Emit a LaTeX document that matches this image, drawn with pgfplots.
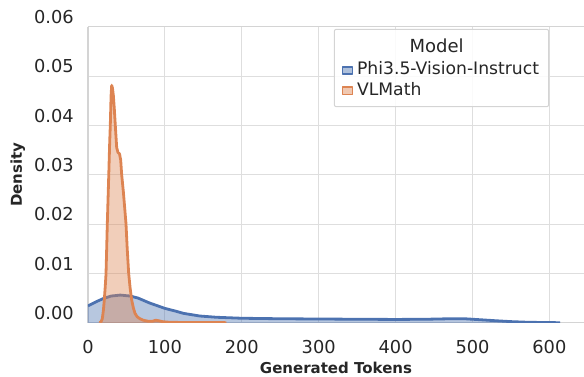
\documentclass[border=0pt]{standalone}
\usepackage{pgfplots}
\pgfplotsset{compat=1.18}
\usepackage{fontspec}
\setmainfont{DejaVu Sans}
\definecolor{phiblue}{HTML}{4C72B0}
\definecolor{vlorange}{HTML}{DD8452}
\definecolor{txt}{gray}{0.15}
\definecolor{gridc}{gray}{0.87}
\definecolor{framec}{gray}{0.83}
\newcommand\tickfont{\fontsize{17.8}{20}\selectfont}
\newcommand\labelfont{\fontsize{15}{18}\selectfont\bfseries}
\newcommand\legfont{\fontsize{17.2}{20}\selectfont}

\pgfplotstableread{
x y
0 0.0034
10 0.0042
20 0.0049
30 0.0054
42 0.0056
55 0.0054
65 0.0050
80 0.0040
100 0.0029
115 0.0023
124 0.0019
145 0.00136
167 0.0011
200 0.0009
250 0.0008
300 0.00075
350 0.0007
400 0.00066
440 0.0007
470 0.0008
490 0.0008
510 0.0006
530 0.0004
550 0.00022
570 0.0001
590 0.00004
614 0
}\phidata

\pgfplotstableread{
x y
15 0
17 0.0002
18.6 0.0008
20 0.0025
21.2 0.0046
22.5 0.0075
23.4 0.0098
24.3 0.015
25.1 0.020
26.4 0.0268
27.2 0.031
28.1 0.036
29.0 0.040
30.0 0.0460
30.8 0.0481
31.8 0.0476
33.0 0.0460
34.2 0.0434
35.5 0.0400
37.3 0.0355
39.0 0.0345
41.0 0.0342
42.5 0.0330
43.8 0.0300
46.0 0.0265
49.4 0.0201
51.0 0.015
52.9 0.0100
54.8 0.0070
56.8 0.0046
59 0.0030
61.1 0.0019
64 0.0012
67.6 0.0008
72 0.0005
78 0.0003
84 0.0003
88 0.0005
92 0.0004
97 0.0002
105 0.0001
120 0.00005
140 0.00003
160 0.00004
172 0.00004
180 0
}\vldata

\begin{document}
\begin{tikzpicture}
\useasboundingbox (-88pt,-54.3pt) rectangle (496pt,322.7pt);
\begin{axis}[
  scale only axis, width=496pt, height=296pt,
  at={(0pt,0pt)}, anchor=south west,
  xmin=0, xmax=645, ymin=0, ymax=0.06,
  scaled y ticks=false, scaled x ticks=false,
  axis x line=box, axis y line=left,
  axis line style={draw=framec, line width=1.1pt, -},
  major tick length=0pt,
  grid=major, major grid style={draw=gridc, line width=0.9pt},
  xtick={0,100,200,300,400,500,600},
  xticklabels={0,100,200,300,400,500,600},
  ytick={0,0.01,0.02,0.03,0.04,0.05,0.06},
  yticklabels={0.00,0.01,0.02,0.03,0.04,0.05,0.06},
  xticklabel style={font=\tickfont, text=txt, anchor=north, inner sep=0pt, yshift=-17.3pt},
  yticklabel style={font=\tickfont, text=txt, anchor=east, inner sep=0pt, xshift=-14pt, yshift=9.7pt},
  xlabel={Generated Tokens},
  xlabel style={font=\labelfont, text=txt, at={(axis description cs:0.5,-0.154)}, anchor=center, inner sep=0pt},
  ylabel={Density},
  ylabel style={font=\labelfont, text=txt, at={(axis description cs:-0.1415,0.5)}, anchor=center, inner sep=0pt},
  legend style={at={(axis description cs:0.5114,0.8790)}, anchor=north west, draw=none, fill=none,
    inner sep=0pt, font=\legfont, text=txt, row sep=5pt,
    nodes={inner sep=0pt, text height=12pt, text depth=3.5pt},
    /tikz/every odd column/.append style={column sep=3.6pt}},
  legend cell align=left,
]
\addplot[fill=phiblue, fill opacity=0.4, draw=phiblue, draw opacity=0.4, line width=0.8pt, forget plot] table[x=x,y=y] {\phidata} \closedcycle;
\addplot[draw=phiblue, line width=2.8pt, line join=round,
  legend image code/.code={\draw[line width=1.6pt, draw=phiblue, fill=phiblue!45] (0.8pt,-3.7pt) rectangle (10.8pt,3.7pt);}]
  table[x=x,y=y] {\phidata};
\addlegendentry{Phi3.5-Vision-Instruct}
\addplot[fill=vlorange, fill opacity=0.4, draw=vlorange, draw opacity=0.4, line width=0.8pt, forget plot] table[x=x,y=y] {\vldata} \closedcycle;
\addplot[draw=vlorange, line width=2.8pt, line join=round,
  legend image code/.code={\draw[line width=1.6pt, draw=vlorange, fill=vlorange!45] (0.8pt,-3.7pt) rectangle (10.8pt,3.7pt);}]
  table[x=x,y=y] {\vldata};
\addlegendentry{VLMath}
\draw[draw=framec, line width=1pt, fill=white, fill opacity=0.85, rounded corners=2pt]
  (axis description cs:0.4966,0.7297) rectangle (axis description cs:0.9288,0.9912);
\node[font=\fontsize{18}{20}\selectfont, text=txt, inner sep=0pt] at (axis description cs:0.7030,0.9348) {Model};
\end{axis}
\end{tikzpicture}
\end{document}
